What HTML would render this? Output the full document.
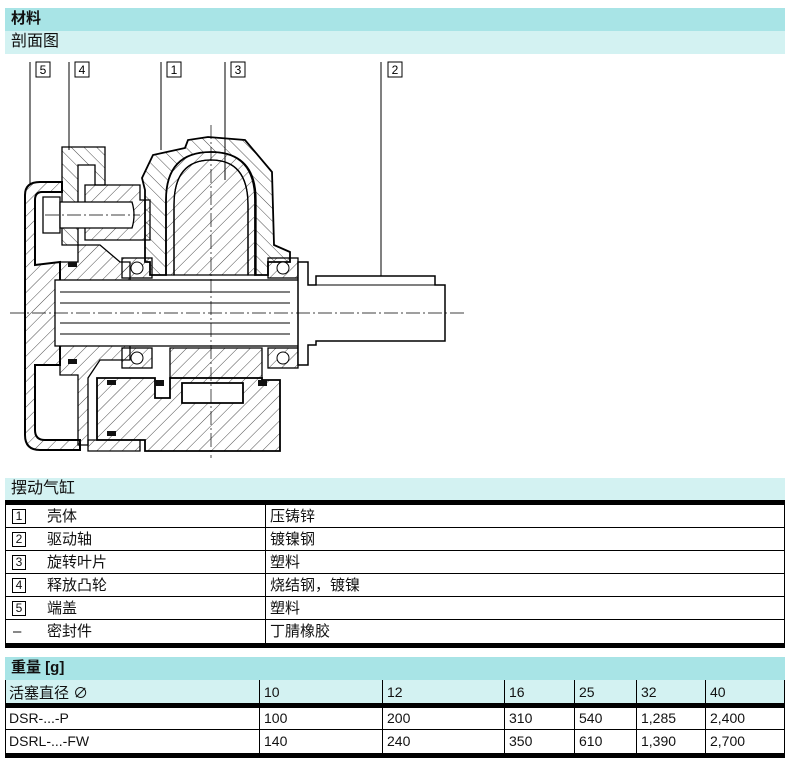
<!DOCTYPE html>
<html><head><meta charset="utf-8">
<style>
body{margin:0;background:#fff;width:790px;height:764px;position:relative;overflow:hidden;font-family:"Liberation Sans","Noto Sans CJK SC",sans-serif;color:#111}
.a{position:absolute}
.bar{position:absolute;left:5px;width:780px;font-size:15px;line-height:22px;padding-left:6px;box-sizing:border-box}
.dk{background:#a8e4e6;font-weight:bold}
.lt{background:#d3f2f2}
.thick{position:absolute;left:5px;width:780px;height:5px;background:#000}
.row{position:absolute;left:5px;width:780px;height:23px;border-bottom:1px solid #000;font-size:15px;line-height:23px;box-sizing:border-box}
.bx{position:absolute;left:7px;top:4px;width:14px;height:15px;border:1px solid #000;font-size:12px;line-height:13px;text-align:center;box-sizing:border-box;background:#fff}
.num{font-size:14px}
</style></head><body>
<div class="bar dk" style="top:8px;height:23px">材料</div>
<div class="bar lt" style="top:31px;height:23px;font-size:16px">剖面图</div>

<svg class="a" style="left:0;top:0" width="790" height="470" viewBox="0 0 790 470">
<defs>
<pattern id="h" width="9" height="9" patternUnits="userSpaceOnUse" patternTransform="rotate(45)"><line x1="0" y1="0" x2="0" y2="9" stroke="#222" stroke-width="0.8"/></pattern>
<pattern id="h2" width="9" height="9" patternUnits="userSpaceOnUse" patternTransform="rotate(-45)"><line x1="0" y1="0" x2="0" y2="9" stroke="#222" stroke-width="0.8"/></pattern>
</defs>
<g fill="none" stroke="#000" stroke-width="1">
<line x1="30" y1="62" x2="30" y2="185"/>
<line x1="69" y1="62" x2="69" y2="150"/>
<line x1="161" y1="62" x2="161" y2="150"/>
<line x1="225" y1="62" x2="225" y2="180"/>
<line x1="381" y1="62" x2="381" y2="293"/>
</g>
<g font-size="12" font-family="Liberation Sans,sans-serif" text-anchor="middle">
<rect x="36" y="62" width="14" height="15" fill="#fff" stroke="#000"/><text x="43" y="74">5</text>
<rect x="75" y="62" width="14" height="15" fill="#fff" stroke="#000"/><text x="82" y="74">4</text>
<rect x="167" y="62" width="14" height="15" fill="#fff" stroke="#000"/><text x="174" y="74">1</text>
<rect x="231" y="62" width="14" height="15" fill="#fff" stroke="#000"/><text x="238" y="74">3</text>
<rect x="388" y="62" width="14" height="15" fill="#fff" stroke="#000"/><text x="395" y="74">2</text>
</g>
<g stroke="#000" stroke-width="1.3">
<path d="M25,195 Q25,182 40,182 L62,182 L62,192 L42,192 Q35,192 35,200 L35,265 L60,262 L60,365 L35,365 L35,430 Q35,440 45,440 L80,440 L80,450 L40,450 Q25,450 25,435 Z" fill="url(#h)" stroke-width="2"/>
<path d="M62,147 L105,147 L105,185 L95,185 L95,165 L78,165 L78,245 L62,245 Z" fill="url(#h2)"/>
<path d="M85,185 L140,185 L140,200 L150,200 L150,240 L85,240 Z" fill="url(#h)"/>
<path d="M43,197 L60,197 L60,233 L43,233 Z" fill="#fff"/>
<path d="M60,202 L132,202 Q136,215 132,228 L60,228 Z" fill="#fff"/>
<path d="M78,245 L100,245 L120,262 L130,262 L130,285 L60,285 L60,262 L78,262 Z" fill="url(#h)"/>
<path d="M60,345 L130,345 L130,360 L100,360 L88,378 L88,445 L78,445 L78,375 L60,375 Z" fill="url(#h)"/>
<path d="M142,178 L153,155 L185,148 L188,140 L208,137 L245,140 L272,172 L274,245 L290,252 L290,262 L268,262 L268,275 L255,275 L255,200 Q255,152 211,152 Q166,152 166,200 L166,275 L150,275 L150,262 L145,262 L145,190 Z" fill="url(#h2)" stroke-width="1.8"/>
<path d="M166,275 L166,200 Q166,152 211,152 Q256,152 256,200 L256,275 L248,275 L248,205 Q248,160 211,160 Q174,160 174,205 L174,275 Z" fill="url(#h)"/>
<path d="M174,275 L174,205 Q174,160 211,160 Q248,160 248,205 L248,275 Z" fill="url(#h)"/>
<rect x="55" y="280" width="250" height="66" fill="#fff"/>
<path d="M60,292 L290,292 M60,303 L290,303 M60,323 L290,323 M60,334 L290,334" fill="none" stroke-width="1"/>
<g fill="url(#h)">
<rect x="122" y="258" width="30" height="20"/><rect x="122" y="348" width="30" height="20"/>
<rect x="268" y="258" width="30" height="20"/><rect x="268" y="348" width="30" height="20"/>
</g>
<g fill="#fff" stroke-width="1">
<circle cx="137" cy="268" r="6"/><circle cx="137" cy="358" r="6"/>
<circle cx="283" cy="268" r="6"/><circle cx="283" cy="358" r="6"/>
</g>
<path d="M170,348 L262,348 L262,378 L170,378 Z" fill="url(#h)"/>
<path d="M97,378 L155,378 L155,398 L170,398 L170,378 L262,378 L262,380 L280,380 L280,451 L145,451 L145,440 L97,440 Z M182,383 L243,383 L243,403 L182,403 Z" fill="url(#h)" fill-rule="evenodd" stroke-width="1.8"/>
<path d="M88,440 L140,440 L140,451 L88,451Z" fill="url(#h)"/>
<g fill="#111" stroke="none">
<rect x="68" y="262" width="9" height="5"/><rect x="68" y="359" width="9" height="5"/>
<rect x="107" y="380" width="9" height="5"/><rect x="107" y="431" width="9" height="5"/>
<rect x="155" y="380" width="9" height="6"/><rect x="258" y="380" width="9" height="6"/>
</g>
<path d="M298,262 L308,262 L308,285 L316,285 L316,276 L435,276 L435,285 L445,285 L445,341 L316,341 L316,345 L308,345 L308,365 L298,365 Z" fill="#fff" stroke-width="1.5"/>
<line x1="316" y1="285" x2="435" y2="285" stroke-width="1"/>
</g>
<g stroke="#000" stroke-width="0.7" stroke-dasharray="14,3,2,3" fill="none">
<line x1="10" y1="313" x2="465" y2="313"/>
<line x1="211" y1="125" x2="211" y2="458"/>
<line x1="45" y1="215" x2="140" y2="215"/>
</g>
</svg>

<div class="bar lt" style="top:478px;height:23px;font-size:16px">摆动气缸</div>
<div class="thick" style="top:500px"></div>
<div class="row" style="top:505px"><span class="bx">1</span><span class="a" style="left:42px">壳体</span><span class="a" style="left:260px;border-left:1px solid #000;padding-left:4px;height:23px">压铸锌</span></div>
<div class="row" style="top:528px"><span class="bx">2</span><span class="a" style="left:42px">驱动轴</span><span class="a" style="left:260px;border-left:1px solid #000;padding-left:4px;height:23px">镀镍钢</span></div>
<div class="row" style="top:551px"><span class="bx">3</span><span class="a" style="left:42px">旋转叶片</span><span class="a" style="left:260px;border-left:1px solid #000;padding-left:4px;height:23px">塑料</span></div>
<div class="row" style="top:574px"><span class="bx">4</span><span class="a" style="left:42px">释放凸轮</span><span class="a" style="left:260px;border-left:1px solid #000;padding-left:4px;height:23px">烧结钢，镀镍</span></div>
<div class="row" style="top:597px"><span class="bx">5</span><span class="a" style="left:42px">端盖</span><span class="a" style="left:260px;border-left:1px solid #000;padding-left:4px;height:23px">塑料</span></div>
<div class="row" style="top:620px;border-bottom:none"><span class="a" style="left:8px">–</span><span class="a" style="left:42px">密封件</span><span class="a" style="left:260px;border-left:1px solid #000;padding-left:4px;height:23px">丁腈橡胶</span></div>
<div class="thick" style="top:643px"></div>
<div class="a" style="left:5px;top:500px;width:1px;height:148px;background:#000"></div>
<div class="a" style="left:784px;top:500px;width:1px;height:148px;background:#000"></div>

<div class="bar dk" style="top:657px;height:23px">重量 [g]</div>
<div class="bar lt" style="top:680px;height:23px"></div>
<div class="thick" style="top:703px"></div>
<div class="a" style="left:5px;top:729px;width:780px;height:1px;background:#000"></div>
<div class="thick" style="top:753px"></div>
<div class="a" style="left:5px;top:680px;width:1px;height:78px;background:#000"></div>
<div class="a" style="left:784px;top:680px;width:1px;height:78px;background:#000"></div>
<div class="a" style="left:259px;top:680px;width:1px;height:73px;background:#000"></div>
<div class="a" style="left:382px;top:680px;width:1px;height:73px;background:#000"></div>
<div class="a" style="left:504px;top:680px;width:1px;height:73px;background:#000"></div>
<div class="a" style="left:574px;top:680px;width:1px;height:73px;background:#000"></div>
<div class="a" style="left:636px;top:680px;width:1px;height:73px;background:#000"></div>
<div class="a" style="left:705px;top:680px;width:1px;height:73px;background:#000"></div>
<div class="a num" style="left:9px;top:682px;font-size:15px">活塞直径 ∅</div>
<div class="a num" style="left:264px;top:684px">10</div><div class="a num" style="left:387px;top:684px">12</div><div class="a num" style="left:509px;top:684px">16</div><div class="a num" style="left:579px;top:684px">25</div><div class="a num" style="left:641px;top:684px">32</div><div class="a num" style="left:710px;top:684px">40</div>
<div class="a num" style="left:9px;top:710px">DSR-...-P</div>
<div class="a num" style="left:264px;top:710px">100</div><div class="a num" style="left:387px;top:710px">200</div><div class="a num" style="left:509px;top:710px">310</div><div class="a num" style="left:579px;top:710px">540</div><div class="a num" style="left:641px;top:710px">1,285</div><div class="a num" style="left:710px;top:710px">2,400</div>
<div class="a num" style="left:9px;top:733px">DSRL-...-FW</div>
<div class="a num" style="left:264px;top:733px">140</div><div class="a num" style="left:387px;top:733px">240</div><div class="a num" style="left:509px;top:733px">350</div><div class="a num" style="left:579px;top:733px">610</div><div class="a num" style="left:641px;top:733px">1,390</div><div class="a num" style="left:710px;top:733px">2,700</div>
</body></html>
